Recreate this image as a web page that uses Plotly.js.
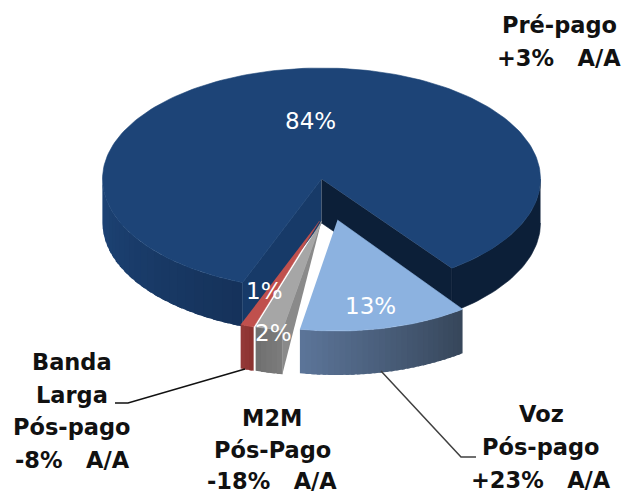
<!DOCTYPE html>
<html>
<head>
<meta charset="utf-8">
<script src="https://cdn.plot.ly/plotly-3.0.1.min.js"></script>
<style>html,body{margin:0;padding:0;background:#fff}#chart{width:626px;height:496px}</style>
</head>
<body>
<div id="chart"></div>
<script>
// ---- data ----
const categories = ['Voz Pós-pago', 'M2M Pós-Pago', 'Banda Larga Pós-pago', 'Pré-pago'];
const values = [13, 2, 1, 84];
const valueLabels = ['13%', '2%', '1%', '84%'];
const labelLinesVoz = ['Voz', 'Pós-pago', '+23%\u00a0\u00a0\u00a0A/A'];
const labelLinesM2M = ['M2M', 'Pós-Pago', '-18%\u00a0\u00a0\u00a0A/A'];
const labelLinesBanda = ['Banda', 'Larga', 'Pós-pago', '-8%\u00a0\u00a0\u00a0A/A'];
const labelLinesPre = ['Pré-pago', '+3%\u00a0\u00a0\u00a0A/A'];

// ---- geometry and style of the projected pie ----
const cx = 321.5, cy = 179, rx = 219, ry = 111, depth = 44;
const startAngle = 143.5;
const explodeX = [16, 0, -2, 0];
const explodeY = [41, 42, 42, 0];
const scaleX = [0.96, 1, 1, 1];
const topColors = ['#8cb2e0', '#a6a6a6', '#c0504d', '#1d4477'];
const cutColors = [null, '#8a8a8a', '#8e3533', '#0c1f38'];

const total = values.reduce((a, b) => a + b, 0);
const traces = [];
function pt(a, ox, oy, dz, sx) {
  const r = a * Math.PI / 180;
  return [cx + ox + (sx || 1) * rx * Math.sin(r), cy + oy - ry * Math.cos(r) + dz];
}
function poly(points, color, lw) {
  traces.push({
    type: 'scatter', mode: 'lines', fill: 'toself', fillcolor: color,
    x: points.map(p => p[0]), y: points.map(p => p[1]),
    line: {color: color, width: lw === undefined ? 0.6 : lw}, hoverinfo: 'skip', showlegend: false
  });
}
function arc(a0, a1, ox, oy, dz, sx) {
  const n = Math.max(2, Math.ceil(Math.abs(a1 - a0) / 1.5));
  const out = [];
  for (let i = 0; i <= n; i++) out.push(pt(a0 + (a1 - a0) * i / n, ox, oy, dz, sx));
  return out;
}
function hex(c) { return [1, 3, 5].map(i => parseInt(c.substr(i, 2), 16)); }
function mix(c0, c1, t) {
  const a = hex(c0), b = hex(c1);
  return 'rgb(' + a.map((v, i) => Math.round(v + (b[i] - v) * t)).join(',') + ')';
}
// strips overlap the next one, so no seams show between them
function wall(a0, a1, ox, oy, c0, c1, steps, sx) {
  for (let i = 0; i < steps; i++) {
    const s = a0 + (a1 - a0) * i / steps;
    const e = a0 + (a1 - a0) * Math.min(steps, i + 1.6) / steps;
    poly(arc(s, e, ox, oy, 0, sx).concat(arc(e, s, ox, oy, depth, sx)), mix(c0, c1, (i + 0.5) / steps), 0);
  }
}
// slice spans
const spans = [];
let acc = startAngle;
values.forEach(v => { const e = acc + v / total * 360; spans.push([acc, e]); acc = e; });
const pre = spans[3], voz = spans[0], m2m = spans[1], banda = spans[2];
const pivot = [cx, cy];

// main slice: walls, cut faces and top
poly(arc(90, pre[1] - 360, 0, 0, 0).concat(arc(pre[1] - 360, 90, 0, 0, depth)), cutColors[3]);
wall(270, pre[0], 0, 0, '#1d4477', '#15325a', 24);
const pL = pt(pre[0], 0, 0, 0), pR = pt(pre[1], 0, 0, 0);
poly([pivot, pL, [pL[0], pL[1] + depth], [cx, cy + depth]], '#173a68');
poly([pivot, pR, [pR[0], pR[1] + depth], [cx, cy + depth]], cutColors[3]);
poly([pivot].concat(arc(pre[0], pre[1], 0, 0, 0)), topColors[3]);

// Banda Larga
const bTip = [cx + explodeX[2], cy + explodeY[2]];
wall(banda[1], banda[0], explodeX[2], explodeY[2], '#953a38', '#8a3230', 3);
poly([bTip].concat(arc(banda[0], banda[1], explodeX[2], explodeY[2], 0)), topColors[2]);

// M2M
const mTip = [cx + explodeX[1], cy + explodeY[1]];
const mC = pt(m2m[0], explodeX[1], explodeY[1], 0);
wall(m2m[1], m2m[0], explodeX[1], explodeY[1], '#6f6f6f', '#7c7c7c', 5);
poly([mTip, mC, [mC[0], mC[1] + depth]], cutColors[1]);
poly([mTip].concat(arc(m2m[0], m2m[1], explodeX[1], explodeY[1], 0)), topColors[1]);

// Voz
wall(voz[1], voz[0], explodeX[0], explodeY[0], '#5c7599', '#36465a', 30, scaleX[0]);
poly([[cx + explodeX[0], cy + explodeY[0]]].concat(arc(voz[0], voz[1], explodeX[0], explodeY[0], 0, scaleX[0])), topColors[0]);

// ---- text ----
const annotations = [];
function textLines(lines, x, y0, step) {
  lines.forEach((t, i) => annotations.push({
    x: x, y: y0 + i * step, text: '<b>' + t + '</b>', showarrow: false,
    xanchor: 'center', yanchor: 'middle',
    font: {family: 'DejaVu Sans', size: 22.5, color: '#111'}
  }));
}
textLines(labelLinesPre, 559, 25, 33);
textLines(labelLinesVoz, 541, 414, 33);
textLines(labelLinesM2M, 272, 418, 31.5);
textLines(labelLinesBanda, 72, 362, 32.7);
const valuePos = [[370, 306], [273, 333], [264, 291], [310, 121]];
valueLabels.forEach((t, i) => annotations.push({
  x: valuePos[i][0], y: valuePos[i][1], text: t, showarrow: false,
  xanchor: 'center', yanchor: 'middle',
  font: {family: 'DejaVu Sans', size: 23, color: '#ffffff'}
}));

// leader lines
const leaderVozX = [381, 461, 476], leaderVozY = [371, 457, 457];
const leaderBandaX = [245, 128, 115], leaderBandaY = [369, 403, 403];
[[leaderVozX, leaderVozY, '#404040'], [leaderBandaX, leaderBandaY, '#111111']].forEach(l => traces.push({
  type: 'scatter', mode: 'lines', x: l[0], y: l[1],
  line: {color: l[2], width: 1.5}, hoverinfo: 'skip', showlegend: false
}));

Plotly.newPlot('chart', traces, {
  width: 626, height: 496,
  margin: {l: 0, r: 0, t: 0, b: 0},
  paper_bgcolor: '#ffffff', plot_bgcolor: '#ffffff',
  showlegend: false,
  xaxis: {range: [0, 626], visible: false, fixedrange: true},
  yaxis: {range: [496, 0], visible: false, fixedrange: true},
  annotations: annotations
}, {staticPlot: true, displayModeBar: false});
</script>
</body>
</html>
